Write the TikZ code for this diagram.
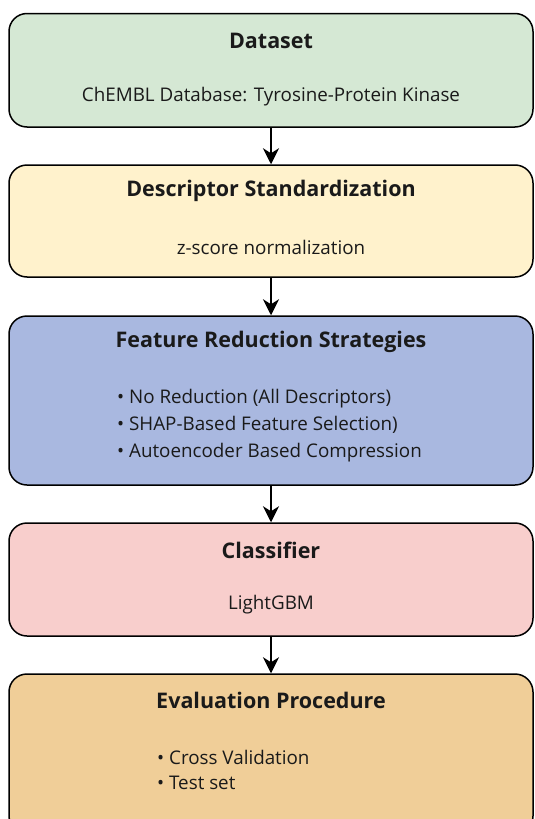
\documentclass[tikz,border=0pt]{standalone}
\usepackage{fontspec}
\setmainfont{Open Sans}
\usetikzlibrary{arrows.meta}
\definecolor{cgreen}{HTML}{D5E8D4}
\definecolor{cyellow}{HTML}{FFF2CC}
\definecolor{cblue}{HTML}{A9B8E0}
\definecolor{cpink}{HTML}{F8CECC}
\definecolor{corange}{HTML}{F0CE98}
\definecolor{ctext}{HTML}{1A1A1A}
\tikzset{
  box/.style={draw=black, line width=1.5pt, rounded corners=18pt, minimum width=524pt, inner sep=0pt},
  title/.style={font=\fontsize{21.5}{26}\selectfont\bfseries, text=ctext, inner sep=0pt, anchor=center},
  body/.style={font=\fontsize{18.8}{22}\selectfont, text=ctext, inner sep=0pt},
  flow/.style={-{Stealth[length=16pt,width=16pt,inset=5pt]}, line width=1.5pt, black}
}
\begin{document}
\begin{tikzpicture}[x=1pt,y=-1pt]
\useasboundingbox (0,0) rectangle (535,819);
\clip (0,0) rectangle (535,819);
\node[box, fill=cgreen, minimum height=113.5pt] (b1) at (271,70.25) {};
\node[box, fill=cyellow, minimum height=112pt] (b2) at (271,221) {};
\node[box, fill=cblue, minimum height=169pt] (b3) at (271,400.5) {};
\node[box, fill=cpink, minimum height=113pt] (b4) at (271,579.5) {};
\node[box, fill=corange, minimum height=160pt] (b5) at (271,754) {};

\node[title] (t1) at (271,40.5) {Dataset};
\node[body, anchor=center] (s1) at (271,97) {ChEMBL Database: Tyrosine-Protein Kinase};
\node[title] (t2) at (271,191) {Descriptor Standardization};
\node[body, anchor=center] (s2) at (271,247) {z-score normalization};
\node[title] (t3) at (271,342) {Feature Reduction Strategies};
\node[body, anchor=west] (s3a) at (117,399) {• No Reduction (All Descriptors)};
\node[body, anchor=west] (s3b) at (117,425) {• SHAP-Based Feature Selection)};
\node[body, anchor=west] (s3c) at (117,453) {• Autoencoder Based Compression};
\node[title] (t4) at (271,550) {Classifier};
\node[body, anchor=center] (s4) at (271,605) {LightGBM};
\node[title] (t5) at (271,700) {Evaluation Procedure};
\node[body, anchor=west] (s5a) at (157,757) {• Cross Validation};
\node[body, anchor=west] (s5b) at (157,783) {• Test set};

\draw[flow] (b1.south) -- (b2.north);
\draw[flow] (b2.south) -- (b3.north);
\draw[flow] (b3.south) -- (b4.north);
\draw[flow] (b4.south) -- (b5.north);
\end{tikzpicture}
\end{document}
